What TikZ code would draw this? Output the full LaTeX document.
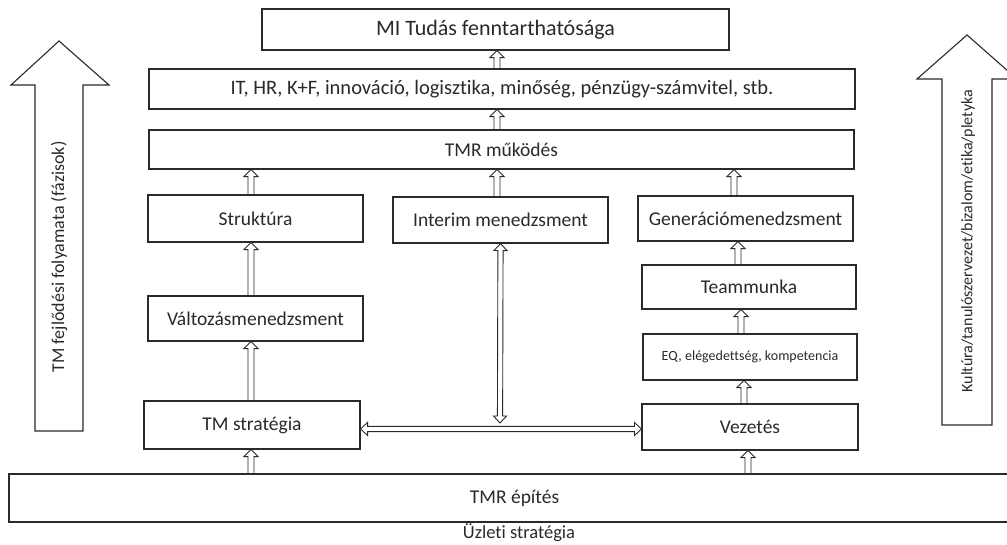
\documentclass[tikz,border=0pt]{standalone}
\usepackage{fontspec}
\setmainfont{Carlito}[Ligatures={NoCommon}]
\usetikzlibrary{calc}
\definecolor{ink}{HTML}{2A2A2A}
\tikzset{
  box/.style={draw=ink, line width=1.1pt, inner sep=0pt, text=ink,
    font=\fontsize{19.5}{23}\selectfont},
  % hollow block arrow from the start point to the target point
  up/.style={draw=ink, line width=0.9pt, fill=white,
    to path={let \p1=(\tikztostart), \p2=(\tikztotarget) in
      coordinate (h) at ($(\p2)!7pt!(\p1)$)
      ($(\p1)!3pt!90:(\p2)$) -- ($(h)!3pt!90:(\p2)$) -- ($(h)!7pt!90:(\p2)$)
      -- (\p2) -- ($(h)!7pt!-90:(\p2)$) -- ($(h)!3pt!-90:(\p2)$)
      -- ($(\p1)!3pt!-90:(\p2)$) -- cycle}},
  % hollow block arrow with a head at each end
  both/.style={draw=ink, line width=0.9pt, fill=white,
    to path={let \p1=(\tikztostart), \p2=(\tikztotarget) in
      coordinate (ha) at ($(\p1)!7pt!(\p2)$)
      coordinate (hb) at ($(\p2)!7pt!(\p1)$)
      (\p1) -- ($(ha)!6.5pt!90:(\p2)$) -- ($(ha)!2.6pt!90:(\p2)$)
      -- ($(hb)!2.6pt!90:(\p2)$) -- ($(hb)!6.5pt!90:(\p2)$) -- (\p2)
      -- ($(hb)!6.5pt!-90:(\p2)$) -- ($(hb)!2.6pt!-90:(\p2)$)
      -- ($(ha)!2.6pt!-90:(\p2)$) -- ($(ha)!6.5pt!-90:(\p2)$) -- cycle}},
  bigarrow/.style={draw=ink, line width=1.1pt, fill=white},
  side/.style={text=ink, rotate=90}
}
\begin{document}
\begin{tikzpicture}[x=1pt,y=-1pt]
\clip (0,0) rectangle (1007,544);
\fill[white] (0,0) rectangle (1007,544);

% column guides for the vertical connectors
\coordinate (cL) at (251,0);
\coordinate (cM) at (497,0);

% top layers
\node[box, minimum width=467pt, minimum height=41pt, font=\fontsize{22}{26}\selectfont] (mi) at (495.5,29.5) {MI Tudás fenntarthatósága};
\node[box, minimum width=706pt, minimum height=40pt, font=\fontsize{20.5}{24}\selectfont] (it) at (502,89) {IT, HR, K+F, innováció, logisztika, minőség, pénzügy-számvitel, stb.};
\node[box, minimum width=705pt, minimum height=39pt] (mukodes) at (501.5,149.5) {TMR működés};

% three pillars
\node[box, minimum width=215pt, minimum height=47pt] (strukt) at (255.5,218.5) {Struktúra};
\node[box, minimum width=215pt, minimum height=46pt] (interim) at (500.5,220) {Interim menedzsment};
\node[box, minimum width=215pt, minimum height=45pt] (gen) at (745.5,218.5) {Generációmenedzsment};

\node[box, minimum width=215pt, minimum height=45pt] (valt) at (255.5,318.5) {Változásmenedzsment};
\node[box, minimum width=214pt, minimum height=44pt] (team) at (749,287) {Teammunka};
\node[box, minimum width=214pt, minimum height=46pt, font=\fontsize{14}{17}\selectfont] (eq) at (750,357) {EQ, elégedettség, kompetencia};

\node[box, minimum width=216pt, minimum height=48pt] (tmstrat) at (252,425) {TM stratégia};
\node[box, minimum width=216pt, minimum height=46pt] (vez) at (750,427) {Vezetés};

% foundation
\node[box, minimum width=1011pt, minimum height=48pt] (epites) at (514.5,498) {TMR építés};
\node[text=ink, font=\fontsize{18.5}{22}\selectfont, anchor=base, inner sep=0pt] (uzleti) at (519,538.5) {Üzleti stratégia};

% side arrows
\draw[bigarrow] (59,41) -- (109,85) -- (83,85) -- (83,431) -- (35,431) -- (35,85) -- (11,85) -- cycle;
\node[side, font=\fontsize{18}{21}\selectfont] (fejl) at (59,257) {TM fejlődési folyamata (fázisok)};
\draw[bigarrow] (967,35) -- (1017,79) -- (992,79) -- (992,425) -- (942,425) -- (942,79) -- (917,79) -- cycle;
\node[side, font=\fontsize{16}{19}\selectfont] (kult) at (968,241) {Kultúra/tanulószervezet/bizalom/etika/pletyka};

% upward connectors
\draw[up] (it.north -| cM) to (mi.south -| cM);
\draw[up] (mukodes.north -| cM) to (it.south -| cM);
\draw[up] (strukt.north -| cL) to (mukodes.south -| cL);
\draw[up] (interim.north -| cM) to (mukodes.south -| cM);
\draw[up] (gen.north -| 734,0) to (mukodes.south -| 734,0);
\draw[up] (valt.north -| cL) to (strukt.south -| cL);
\draw[up] (tmstrat.north -| cL) to (valt.south -| cL);
\draw[up] (epites.north -| cL) to (tmstrat.south -| cL);
\draw[up] (team.north -| 738,0) to (gen.south -| 738,0);
\draw[up] (eq.north -| 741,0) to (team.south -| 741,0);
\draw[up] (vez.north -| 744,0) to (eq.south -| 744,0);
\draw[up] (epites.north -| 748,0) to (vez.south -| 748,0);

% cross links
\coordinate (hz) at (0,429);
\coordinate (vend) at (500,423);
\draw[both] (tmstrat.east |- hz) to (vez.west |- hz);
\draw[both] (interim.south) to (vend);
\end{tikzpicture}
\end{document}
